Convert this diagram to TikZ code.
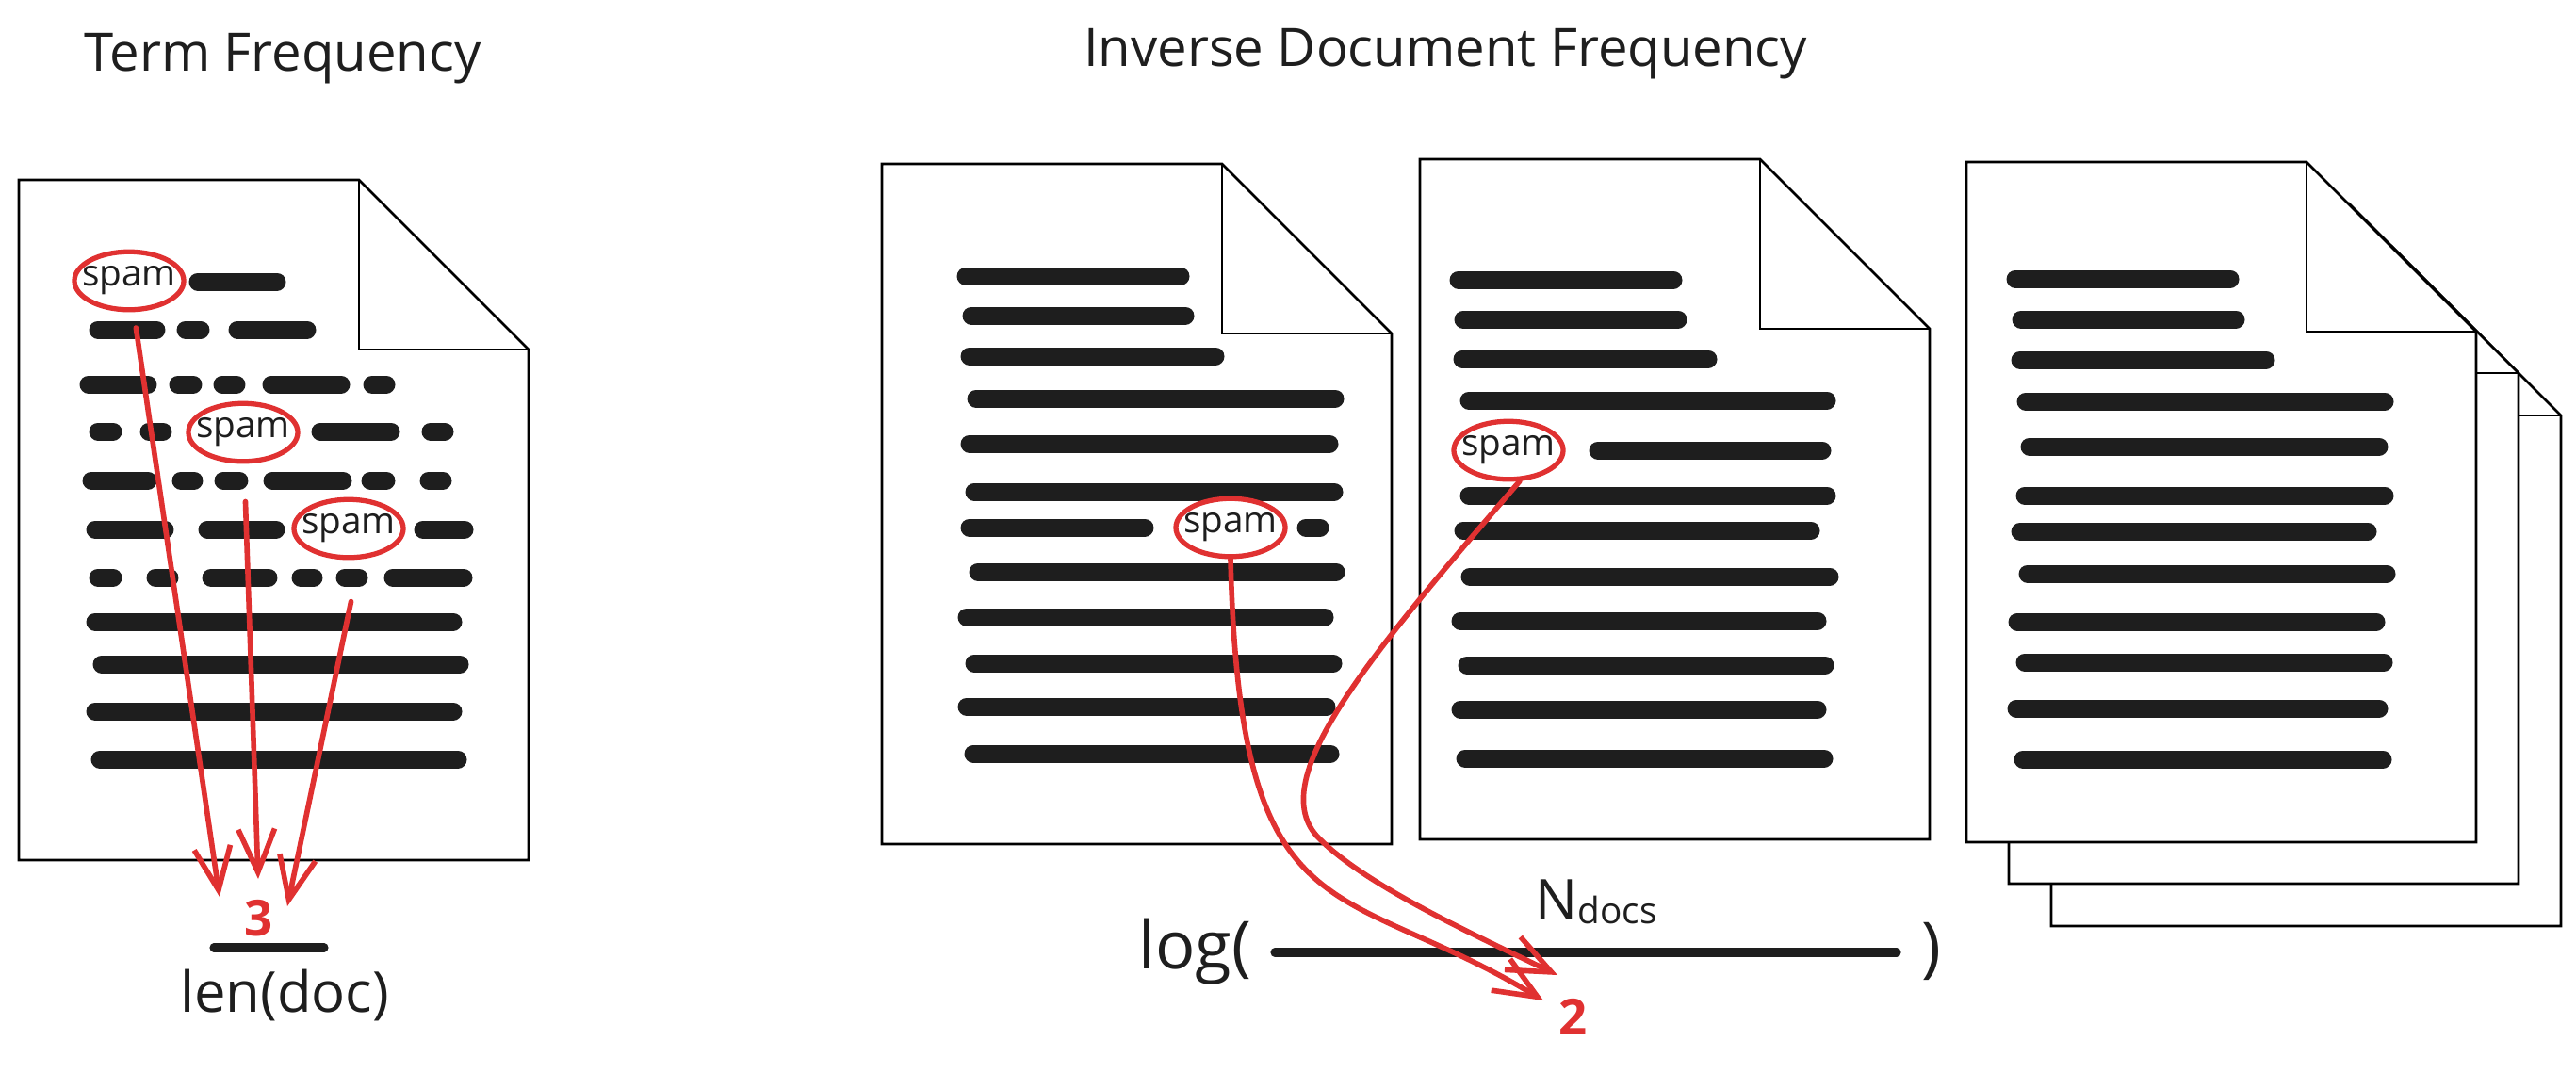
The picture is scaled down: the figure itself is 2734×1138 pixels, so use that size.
\documentclass[tikz,border=0pt]{standalone}
\usepackage{fontspec}
\setmainfont{Open Sans}
\usepackage{xcolor}
\usetikzlibrary{shapes.geometric,arrows.meta}

\definecolor{ink}{HTML}{1E1E1E}
\definecolor{marker}{HTML}{E03131}

\tikzset{
  page/.style={draw=black,line width=0.75pt,fill=white},
  bar/.style={draw=ink,line width=5.4pt,line cap=round},
  fracbar/.style={draw=ink,line width=2.6pt,line cap=round},
  spamring/.style={ellipse,draw=marker,line width=1.5pt,
    inner xsep=-2.5pt,inner ysep=0pt,
    minimum width=33pt,minimum height=17.5pt,text=ink,
    font=\fontsize{11}{13}\selectfont},
  heading/.style={text=ink,inner sep=0pt,anchor=base,
    font=\fontsize{16}{19}\selectfont},
  formula/.style={text=ink,inner sep=0pt,font=\fontsize{17}{20}\selectfont},
  count/.style={text=marker,inner sep=0pt,anchor=base,
    font=\fontsize{15}{18}\selectfont\bfseries},
  redpen/.style={draw=marker,line width=1.6pt,line cap=round,
    -{Straight Barb[length=13pt,width=11pt]}}
}

% sheet with a folded corner, #1/#2 = top left corner
\newcommand{\docsheet}[2]{%
  \draw[page] (#1,#2) -- ++(361,0) -- ++(180,180) -- ++(0,542)
    -- ++(-541,0) -- cycle;
  \draw[page,fill=none] (#1+361,#2) -- ++(0,180) -- ++(180,0);
}

\begin{document}
\begin{tikzpicture}[x=0.01cm,y=-0.01cm]
\useasboundingbox (0,0) rectangle (2734,1138);

% titles
\node[heading] (tfTitle) at (300,75) {Term Frequency};
\node[heading] (idfTitle) at (1534,70) {Inverse Document Frequency};

% pages
\docsheet{20}{191}
\docsheet{936}{174}
\docsheet{1507}{169}
\docsheet{2177}{261}
\docsheet{2132}{216}
\docsheet{2087}{172}

% text lines, term frequency page
\foreach \y/\a/\b in {299/202/302,
    350/96/174, 350/189/221, 350/244/334,
    408/86/165, 408/181/213, 408/228/259, 408/280/370, 408/387/418,
    458/96/128, 458/150/181, 458/332/423, 458/449/480,
    510/89/165, 510/184/214, 510/229/262, 510/281/372, 510/385/418, 510/447/478,
    562/93/183, 562/212/301, 562/441/501,
    613/96/128, 613/157/188, 613/216/293, 613/311/341, 613/358/389, 613/409/500,
    660/93/489, 705/100/496, 755/93/489, 806/98/494}
  \draw[bar] (\a+8,\y) -- (\b-8,\y);

% text lines, idf pages
\foreach \y/\a/\b in {293/1017/1261, 335/1023/1266, 378/1021/1298,
    423/1028/1425, 471/1021/1419, 522/1026/1424, 560/1021/1223, 560/1378/1409,
    607/1030/1426, 655/1018/1414, 704/1026/1423, 750/1018/1416, 800/1025/1420,
    297/1540/1784, 339/1545/1789, 381/1544/1821, 425/1551/1947, 478/1688/1942,
    526/1551/1947, 563/1545/1930, 612/1552/1950, 659/1542/1937, 706/1549/1945,
    753/1542/1937, 805/1547/1944,
    296/2131/2375, 339/2137/2381, 382/2136/2413, 426/2142/2539, 474/2146/2533,
    526/2141/2539, 564/2136/2521, 609/2144/2541, 660/2133/2530, 703/2141/2538,
    752/2132/2533, 806/2139/2537}
  \draw[bar] (\a+8,\y) -- (\b-8,\y);

% circled words
\begin{scope}[every node/.style={spamring}]
  \node (tfSpamA) at (137,298) {spam};
  \node (tfSpamB) at (258,459) {spam};
  \node (tfSpamC) at (370,561) {spam};
  \node (idfSpamA) at (1306,560) {spam};
  \node (idfSpamB) at (1601,478) {spam};
\end{scope}

% term frequency formula
\node[count] (tfCount) at (275,993) {3};
\draw[fracbar] (227,1006) -- (344,1006);
\node[formula,anchor=base] (tfLen) at (302,1074) {len(doc)};

% idf formula
\node[formula] (idfLog) at (1268,1010) {\fontsize{20}{24}\selectfont log(};
\draw[fracbar] (1353,1011) -- (2013,1011);
\node[formula] (idfClose) at (2050,1010) {\fontsize{20}{24}\selectfont )};
\node[formula,anchor=base] (idfN) at (1694,976)
  {N{\fontsize{11}{13}\selectfont\raisebox{-1.4pt}{docs}}};
\node[count] (idfCount) at (1670,1098) {2};

\coordinate (tfTipA) at (233,952);
\coordinate (tfTipB) at (274,933);
\coordinate (tfTipC) at (305,962);
\coordinate (idfTipA) at (1638,1062);
\coordinate (idfTipB) at (1653,1035);

% counting arrows
\begin{scope}[every edge/.style={redpen}]
  \path (tfSpamA) edge[shorten <=4.8pt] (tfTipA);
  \path (tfSpamB) edge[shorten <=11.4pt] (tfTipB);
  \path (tfSpamC.-70) edge[shorten <=13pt] (tfTipC);
\end{scope}
\draw[redpen] (idfSpamA.south) .. controls (1316,1000) and (1420,930) .. (idfTipA);
\draw[redpen] (idfSpamB.-70) .. controls (1450,700) and (1340,830) .. (1400,890)
  .. controls (1450,940) and (1560,990) .. (idfTipB);
\end{tikzpicture}
\end{document}
